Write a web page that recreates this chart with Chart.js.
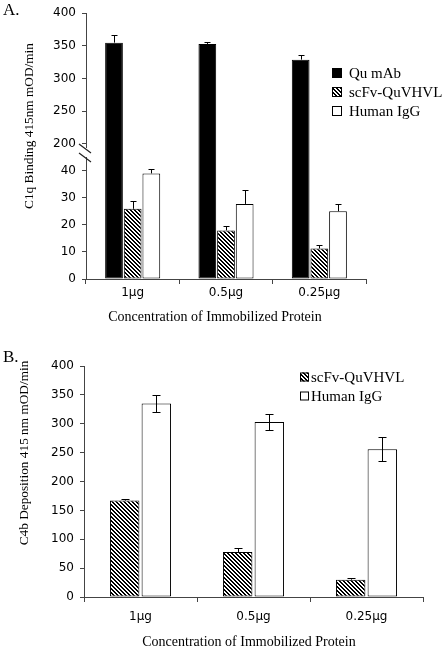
<!DOCTYPE html>
<html><head><meta charset="utf-8">
<script src="https://cdn.jsdelivr.net/npm/chart.js@4/dist/chart.umd.min.js"></script>
<style>
html,body{margin:0;padding:0;background:#fff;}
#wrap{position:relative;width:444px;height:651px;background:#fff;}
#ca{position:absolute;left:0;top:0;}
#cb{position:absolute;left:0;top:330px;}
</style></head><body>
<div id="wrap">
<canvas id="ca" width="444" height="330"></canvas>
<canvas id="cb" width="444" height="321"></canvas>
</div>
<script>
// ---------- data ----------
const categories = ['1µg', '0.5µg', '0.25µg'];

// Panel A (C1q binding)
const quMabA    = [355, 353, 329];
const quMabErrA = [12, 3, 7];
const scfvA     = [26, 18, 11.3];
const scfvErrA  = [2.8, 1.7, 1.4];
const higgA     = [39.1, 27.8, 25.1];
const higgErrA  = [1.5, 5.1, 2.5];
const yTicksA   = [0, 10, 20, 30, 40, 200, 250, 300, 350, 400];

// Panel B (C4b deposition)
const scfvB     = [167, 78, 30];
const scfvErrB  = [2, 6.5, 3];
const higgB     = [335, 303, 256];
const higgErrB  = [15, 14.5, 21];
const yTicksB   = [0, 50, 100, 150, 200, 250, 300, 350, 400];

const seriesNames = ['Qu mAb', 'scFv-QuVHVL', 'Human IgG'];

// ---------- broken linear axis ----------
class BrokenAxis extends Chart.LinearScale {
  toLin(v) {
    const b = this.options.brk;
    return v <= b.low ? v : b.low + (v - b.high) * b.ratio;
  }
  fromLin(d) {
    const b = this.options.brk;
    return d <= b.low ? d : b.high + (d - b.low) / b.ratio;
  }
  buildTicks() {
    return this.options.tickValues.map(v => ({ value: v }));
  }
  configure() {
    super.configure();
    this._startValue = this.toLin(this.min);
    this._endValue = this.toLin(this.max);
    this._valueRange = this._endValue - this._startValue;
  }
  getPixelForValue(v) {
    if (v === null || v === undefined) return NaN;
    return this.getPixelForDecimal((this.toLin(v) - this._startValue) / this._valueRange);
  }
  getValueForPixel(p) {
    return this.fromLin(this._startValue + this.getDecimalForPixel(p) * this._valueRange);
  }
}
BrokenAxis.id = 'brokenAxis';
BrokenAxis.defaults = {};
Chart.register(BrokenAxis);

function makeHatch(ctx) {
  const c = document.createElement('canvas'); c.width = 4; c.height = 4;
  const g = c.getContext('2d');
  const img = g.createImageData(4, 4);
  for (let y = 0; y < 4; y++) for (let x = 0; x < 4; x++) {
    const k = ((x - y) % 4 + 4) % 4;
    const v = (k === 0 || k === 1) ? 0 : 255;
    const i = (y * 4 + x) * 4;
    img.data[i] = img.data[i + 1] = img.data[i + 2] = v; img.data[i + 3] = 255;
  }
  g.putImageData(img, 0, 0);
  return ctx.createPattern(c, 'repeat');
}

const SERIF = '"Liberation Serif", "Times New Roman", serif';
const SANS = '"DejaVu Sans", Verdana, sans-serif';
const AXIS = '#444';

// error bars drawn through the y scale
const errorBars = {
  id: 'errorBars',
  afterDatasetsDraw(chart, args, opts) {
    const ctx = chart.ctx, ys = chart.scales.y;
    chart.data.datasets.forEach((ds, di) => {
      if (!ds.errors) return;
      const meta = chart.getDatasetMeta(di);
      meta.data.forEach((bar, i) => {
        const v = ds.data[i], e = ds.errors[i];
        const top = Math.round(ys.getPixelForValue(v + e)) + 0.5;
        const bot = ds.errBoth ? Math.round(ys.getPixelForValue(v - e)) + 0.5 : bar.y;
        const x = Math.round(bar.x) + 0.5;
        ctx.save();
        ctx.strokeStyle = '#000'; ctx.lineWidth = 1;
        ctx.beginPath();
        ctx.moveTo(x, bot); ctx.lineTo(x, top);
        ctx.moveTo(x - opts.cap, top); ctx.lineTo(x + opts.cap, top);
        if (ds.errBoth) { ctx.moveTo(x - opts.cap, bot); ctx.lineTo(x + opts.cap, bot); }
        ctx.stroke();
        ctx.restore();
      });
    });
  }
};

// decorations: panel letter, axis titles, legend, break marks
const decor = {
  id: 'decor',
  afterDraw(chart, args, o) {
    const ctx = chart.ctx;
    ctx.save();
    ctx.fillStyle = '#000';
    // panel letter
    ctx.font = '17px ' + SERIF; ctx.textBaseline = 'middle'; ctx.textAlign = 'left';
    ctx.fillText(o.letter, o.letterX, o.letterY);
    // x title
    ctx.font = '14px ' + SERIF; ctx.textAlign = 'center';
    ctx.fillText(o.xTitle, o.xTitleX, o.xTitleY);
    // y title
    ctx.save();
    ctx.translate(o.yTitleX, o.yTitleY); ctx.rotate(-Math.PI / 2);
    ctx.font = '13.3px ' + SERIF;
    ctx.fillText(o.yTitle, 0, 0);
    ctx.restore();
    // legend
    ctx.font = '15px ' + SERIF; ctx.textAlign = 'left';
    chart.data.datasets.forEach((ds, i) => {
      const cy = o.legY[i];
      const s = o.legBox;
      ctx.fillStyle = ds.backgroundColor;
      ctx.fillRect(o.legX, cy - s / 2, s, s);
      ctx.strokeStyle = '#000'; ctx.lineWidth = 1;
      ctx.strokeRect(o.legX + 0.5, cy - s / 2 + 0.5, s - 1, s - 1);
      ctx.fillStyle = '#000';
      ctx.fillText(ds.label, o.legTextX, cy + 1);
    });
    // axis break marks
    if (o.brk) {
      const ys = chart.scales.y;
      const x = ys.right;
      const c = ys.getPixelForValue(40) - 18;
      ctx.fillStyle = '#fff';
      ctx.fillRect(x - 2, c - 5, 4, 9);
      ctx.strokeStyle = '#222'; ctx.lineWidth = 1.2;
      ctx.beginPath();
      ctx.moveTo(x - 7, c - 9); ctx.lineTo(x + 5, c);
      ctx.moveTo(x - 7, c);     ctx.lineTo(x + 5, c + 9);
      ctx.stroke();
    }
    ctx.restore();
  }
};

function xScale(width, labelPad) {
  return {
    type: 'category',
    offset: true,
    grid: { display: true, offset: true, drawOnChartArea: false, drawTicks: true, tickLength: 5, color: AXIS },
    border: { display: true, color: AXIS, width: 1 },
    ticks: { color: '#000', font: { family: SANS, size: 12 }, padding: labelPad, maxRotation: 0, autoSkip: false },
    afterFit: s => { s.height = width; }
  };
}

// ---------- Panel A ----------
const ctxA = document.getElementById('ca').getContext('2d');
const hatchA = makeHatch(ctxA);
new Chart(ctxA, {
  type: 'bar',
  data: {
    labels: categories,
    datasets: [
      { label: seriesNames[0], data: quMabA, errors: quMabErrA, backgroundColor: '#000', borderColor: '#000' },
      { label: seriesNames[1], data: scfvA, errors: scfvErrA, backgroundColor: hatchA, borderColor: '#000' },
      { label: seriesNames[2], data: higgA, errors: higgErrA, backgroundColor: '#fff', borderColor: '#000' }
    ]
  },
  options: {
    responsive: false, animation: false, devicePixelRatio: 1,
    layout: { padding: { left: 0, right: 78, top: 10, bottom: 0 } },
    datasets: { bar: { categoryPercentage: 0.6, barPercentage: 0.95, borderWidth: 1, borderSkipped: false } },
    scales: {
      x: xScale(51, 2),
      y: {
        type: 'brokenAxis', min: 0, max: 400,
        brk: { low: 50, high: 200, ratio: 0.2422 },
        tickValues: yTicksA,
        grid: { display: true, drawOnChartArea: false, drawTicks: true, tickLength: 4, color: AXIS },
        border: { display: true, color: AXIS, width: 1 },
        ticks: { color: '#000', font: { family: SANS, size: 12 }, padding: 6, autoSkip: false, callback: v => String(v) },
        afterFit: s => { s.width = 86; }
      }
    },
    plugins: {
      legend: { display: false }, tooltip: { enabled: false },
      errorBars: { cap: 3 },
      decor: {
        letter: 'A.', letterX: 3, letterY: 11,
        xTitle: 'Concentration of Immobilized Protein', xTitleX: 215, xTitleY: 317,
        yTitle: 'C1q Binding 415nm mOD/min', yTitleX: 30, yTitleY: 126,
        legX: 332, legTextX: 349, legY: [73, 92, 111], legBox: 10, brk: true
      }
    }
  },
  plugins: [errorBars, decor]
});

// ---------- Panel B ----------
const ctxB = document.getElementById('cb').getContext('2d');
const hatchB = makeHatch(ctxB);
new Chart(ctxB, {
  type: 'bar',
  data: {
    labels: categories,
    datasets: [
      { label: seriesNames[1], data: scfvB, errors: scfvErrB, backgroundColor: hatchB, borderColor: '#000' },
      { label: seriesNames[2], data: higgB, errors: higgErrB, errBoth: true, backgroundColor: '#fff', borderColor: '#000' }
    ]
  },
  options: {
    responsive: false, animation: false, devicePixelRatio: 1,
    layout: { padding: { left: 0, right: 21, top: 36, bottom: 0 } },
    datasets: { bar: { categoryPercentage: 0.56, barPercentage: 0.93, borderWidth: 1, borderSkipped: false } },
    scales: {
      x: xScale(54, 8),
      y: {
        type: 'linear', min: 0, max: 400,
        afterBuildTicks: s => { s.ticks = yTicksB.map(v => ({ value: v })); },
        grid: { display: true, drawOnChartArea: false, drawTicks: true, tickLength: 4, color: AXIS },
        border: { display: true, color: AXIS, width: 1 },
        ticks: { color: '#000', font: { family: SANS, size: 12 }, padding: 6, autoSkip: false, callback: v => String(v) },
        afterFit: s => { s.width = 84; }
      }
    },
    plugins: {
      legend: { display: false }, tooltip: { enabled: false },
      errorBars: { cap: 4 },
      decor: {
        letter: 'B.', letterX: 3, letterY: 28,
        xTitle: 'Concentration of Immobilized Protein', xTitleX: 249, xTitleY: 312,
        yTitle: 'C4b Deposition 415 nm mOD/min', yTitleX: 25, yTitleY: 123,
        legX: 300, legTextX: 311, legY: [47, 66], legBox: 9, brk: false
      }
    }
  },
  plugins: [errorBars, decor]
});
</script>
</body></html>
